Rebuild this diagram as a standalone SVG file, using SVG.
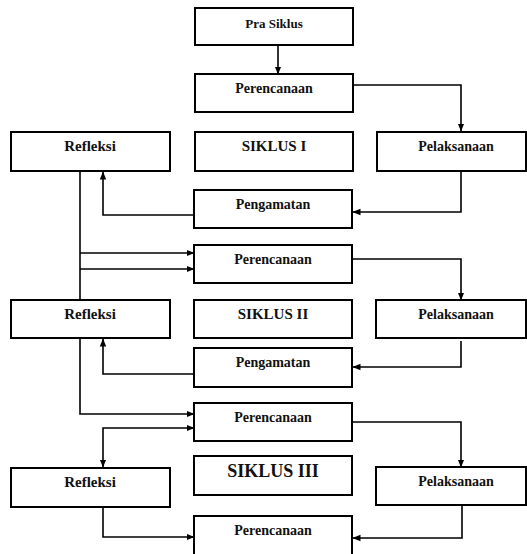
<svg xmlns="http://www.w3.org/2000/svg" width="527" height="554" viewBox="0 0 527 554">
<style>
.box{fill:#fff;stroke:#000;stroke-width:2}
.t{font-family:'Liberation Serif','Times New Roman','DejaVu Serif',serif;font-weight:700;font-size:14px;fill:#111;text-anchor:middle}
.sm{font-size:13px}
.big{font-size:15px}
.big3{font-size:18px}
.ln{fill:none;stroke:#000;stroke-width:1.6}
</style>
<defs>
<marker id="ah" markerUnits="userSpaceOnUse" markerWidth="8" markerHeight="8" viewBox="0 0 8 8" refX="7.5" refY="4" orient="auto-start-reverse">
<path d="M0,0.8 L8,4 L0,7.2 Z" fill="#000"/>
</marker>
</defs>
<rect width="527" height="554" fill="#fff"/>
<g id="connectors">
<path class="ln" d="M278,45 V74" marker-end="url(#ah)"/>
<path class="ln" d="M353,85 H461 V131" marker-end="url(#ah)"/>
<path class="ln" d="M461,172 V212 H353" marker-end="url(#ah)"/>
<path class="ln" d="M194,215 H103 V172" marker-end="url(#ah)"/>
<path class="ln" d="M80,172 V300"/>
<path class="ln" d="M80,253 H194" marker-end="url(#ah)"/>
<path class="ln" d="M80,269 H194" marker-end="url(#ah)"/>
<path class="ln" d="M353,259 H461 V300" marker-end="url(#ah)"/>
<path class="ln" d="M461,341 V367 H353" marker-end="url(#ah)"/>
<path class="ln" d="M194,374 H103 V339" marker-end="url(#ah)"/>
<path class="ln" d="M80,339 V414 H194" marker-end="url(#ah)"/>
<path class="ln" d="M194,428 H103 V467" marker-start="url(#ah)" marker-end="url(#ah)"/>
<path class="ln" d="M353,422 H461 V467" marker-end="url(#ah)"/>
<path class="ln" d="M103,507 V537 H194" marker-end="url(#ah)"/>
<path class="ln" d="M462,505 V538 H353" marker-end="url(#ah)"/>
</g>
<g id="pra-siklus"><rect class="box" x="195" y="8" width="158" height="37"/><text class="t sm" x="274" y="28">Pra Siklus</text></g>
<g id="perencanaan1"><rect class="box" x="195" y="74" width="158" height="38"/><text class="t" x="274" y="93">Perencanaan</text></g>
<g id="refleksi1"><rect class="box" x="11" y="132" width="159" height="39"/><text class="t big" x="90" y="151">Refleksi</text></g>
<g id="siklus1"><rect class="box" x="195" y="132" width="158" height="39"/><text class="t big" x="274" y="151">SIKLUS I</text></g>
<g id="pelaksanaan1"><rect class="box" x="377" y="132" width="149" height="39"/><text class="t" x="456" y="151">Pelaksanaan</text></g>
<g id="pengamatan1"><rect class="box" x="194" y="190" width="158" height="38"/><text class="t" x="273" y="209">Pengamatan</text></g>
<g id="perencanaan2"><rect class="box" x="194" y="245" width="158" height="38"/><text class="t" x="273" y="264">Perencanaan</text></g>
<g id="refleksi2"><rect class="box" x="11" y="300" width="159" height="38"/><text class="t big" x="90" y="319">Refleksi</text></g>
<g id="siklus2"><rect class="box" x="194" y="300" width="158" height="38"/><text class="t big" x="273" y="319">SIKLUS II</text></g>
<g id="pelaksanaan2"><rect class="box" x="376" y="300" width="150" height="38"/><text class="t" x="456" y="319">Pelaksanaan</text></g>
<g id="pengamatan2"><rect class="box" x="194" y="348" width="158" height="39"/><text class="t" x="273" y="367">Pengamatan</text></g>
<g id="perencanaan3"><rect class="box" x="194" y="403" width="158" height="38"/><text class="t" x="273" y="422">Perencanaan</text></g>
<g id="refleksi3"><rect class="box" x="11" y="468" width="159" height="39"/><text class="t big" x="90" y="487">Refleksi</text></g>
<g id="siklus3"><rect class="box" x="194" y="456" width="158" height="39"/><text class="t big3" x="273" y="477">SIKLUS III</text></g>
<g id="pelaksanaan3"><rect class="box" x="376" y="467" width="150" height="38"/><text class="t" x="456" y="486">Pelaksanaan</text></g>
<g id="perencanaan4"><rect class="box" x="194" y="516" width="158" height="44"/><text class="t" x="273" y="535">Perencanaan</text></g>
</svg>
